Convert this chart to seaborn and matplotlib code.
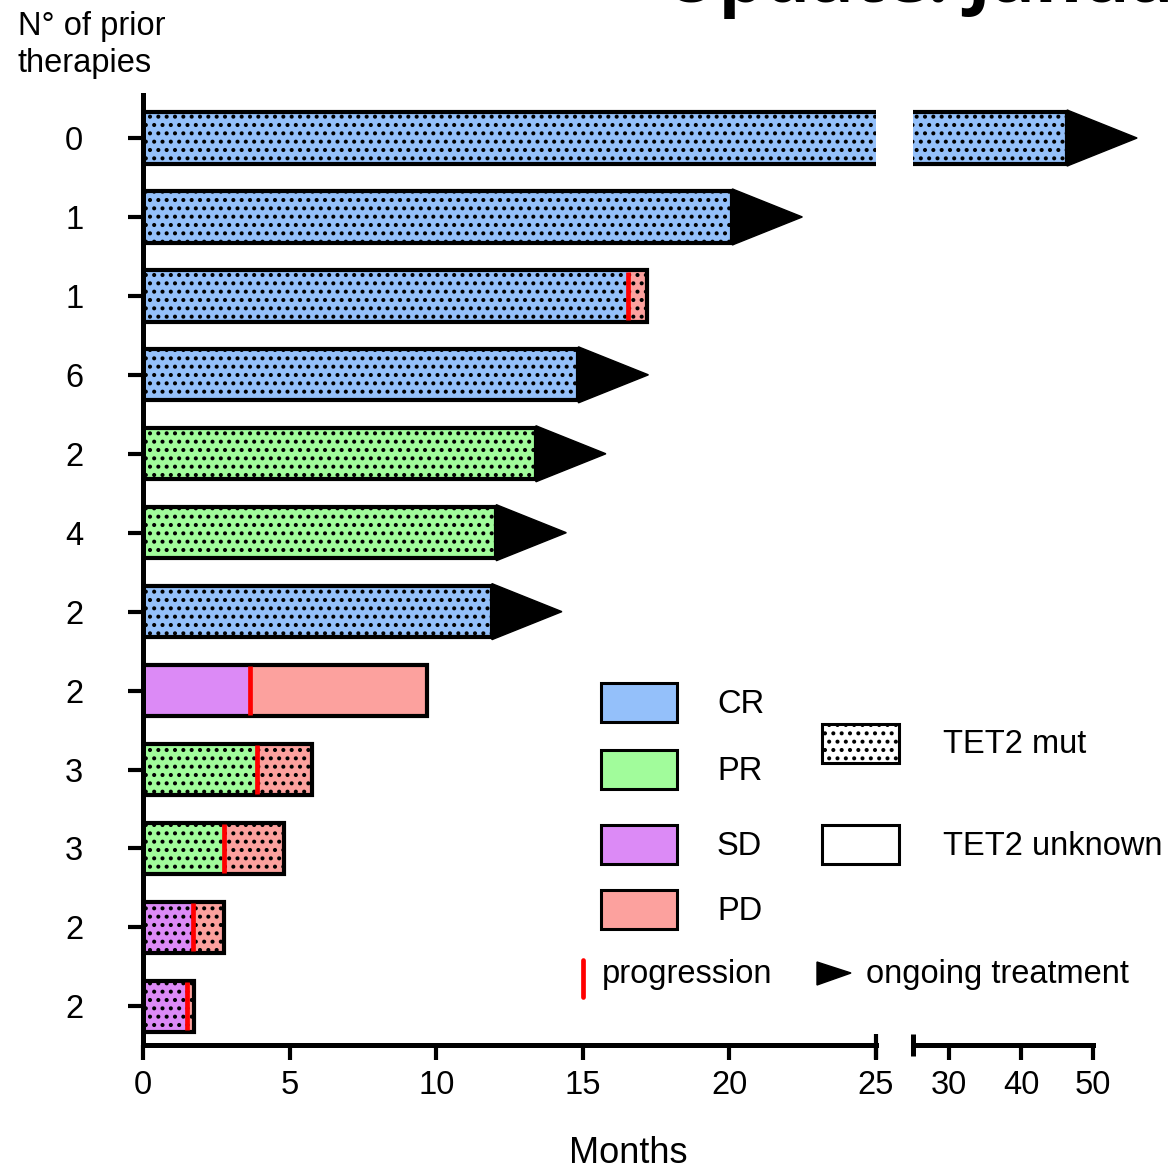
import numpy as np
import pandas as pd
import matplotlib
matplotlib.use('Agg')
import matplotlib.pyplot as plt
import seaborn as sns
from matplotlib.patches import Rectangle, Polygon

# ---------------- data ----------------
prior_therapies = [0, 1, 1, 6, 2, 4, 2, 2, 3, 3, 2, 2]
response = ['CR', 'CR', 'CR', 'CR', 'PR', 'PR', 'CR', 'SD', 'PR', 'PR', 'SD', 'SD']
response_end = [46.4, 20.1, 16.55, 14.85, 13.4, 12.05, 11.9, 3.65, 3.9, 2.75, 1.7, 1.5]
total_months = [46.4, 20.1, 17.2, 14.85, 13.4, 12.05, 11.9, 9.7, 5.75, 4.8, 2.75, 1.75]
progression = [False, False, True, False, False, False, False, True, True, True, True, True]
ongoing = [True, True, False, True, True, True, True, False, False, False, False, False]
tet2 = ['mut', 'mut', 'mut', 'mut', 'mut', 'mut', 'mut', 'unknown', 'mut', 'mut', 'mut', 'mut']
left_ticks = [0, 5, 10, 15, 20, 25]
right_ticks = [30, 40, 50]
response_levels = ['CR', 'PR', 'SD', 'PD']
colors = {'CR': '#94c0fa', 'PR': '#a1fc9b', 'SD': '#dc8af6', 'PD': '#fca19e'}

# ---------------- style ----------------
sns.set_theme(style='white')
plt.rcParams['font.family'] = ['Liberation Sans', 'DejaVu Sans']
plt.rcParams['hatch.linewidth'] = 1.7
plt.rcParams['text.color'] = 'black'
plt.rcParams['xtick.color'] = 'black'
plt.rcParams['ytick.color'] = 'black'
plt.rcParams['axes.labelcolor'] = 'black'

W, H = 1175, 1170
FS = 23.5
BAR_W = 0.65
EDGE = 3.0
SPINE = 3.6

fig = plt.figure(figsize=(W / 100, H / 100), dpi=100)
ax1 = fig.add_axes([143 / W, 1 - 1045 / H, 733 / W, 950 / H])
ax2 = fig.add_axes([913 / W, 1 - 1045 / H, 180 / W, 950 / H], sharey=ax1)

n = len(prior_therapies)
df = pd.DataFrame({
    'patient': [f'P{i + 1}' for i in range(n)],
    'total': total_months,
    'resp_end': response_end,
    'response': response,
})

for ax in (ax1, ax2):
    # progression (PD) background = full duration
    sns.barplot(data=df, x='total', y='patient', color=colors['PD'], orient='h',
                width=BAR_W, saturation=1, edgecolor='black', linewidth=0,
                errorbar=None, ax=ax)
    # response segment
    sns.barplot(data=df, x='resp_end', y='patient', hue='response',
                hue_order=['CR', 'PR', 'SD'], palette=colors, dodge=False,
                orient='h', width=BAR_W, saturation=1, edgecolor='black',
                linewidth=0, errorbar=None, legend=False, ax=ax)
    for p in ax.patches:
        row = int(round(p.get_y() + p.get_height() / 2))
        if 0 <= row < n and tet2[row] == 'mut':
            p.set_hatch('..')
    # outlines
    sns.barplot(data=df, x='total', y='patient', color='black', fill=False,
                orient='h', width=BAR_W, linewidth=EDGE, errorbar=None, ax=ax)
    ax.set_xlabel('')
    ax.set_ylabel('')

# progression marks
for i in range(n):
    if progression[i]:
        ax1.vlines(response_end[i], i - BAR_W / 2 + 0.02, i + BAR_W / 2 - 0.02,
                   color='#ff0000', lw=3.4, zorder=6)

# ongoing-treatment arrows
ARROW_PX = 70
for i in range(n):
    if ongoing[i]:
        t = total_months[i]
        if t < 25:
            ax, ppm = ax1, 733 / 25
        else:
            ax, ppm = ax2, 180 / 25
        L = ARROW_PX / ppm
        hh = BAR_W / 2 + 0.03
        ax.add_patch(Polygon([[t, i - hh], [t + L, i], [t, i + hh]], closed=True,
                             facecolor='black', edgecolor='black', lw=1,
                             clip_on=False, zorder=7))

# axes limits / ticks
ax1.set_ylim(11.49, -0.545)
ax1.set_xlim(0, 25)
ax2.set_xlim(25, 50)

ax1.set_xticks(left_ticks)
ax1.set_xticklabels([str(v) for v in left_ticks])
ax2.set_xticks(right_ticks)
ax2.set_xticklabels([str(v) for v in right_ticks])
ax1.set_yticks(range(n))
ax1.set_yticklabels([str(v) for v in prior_therapies])

for ax in (ax1, ax2):
    ax.tick_params(axis='x', direction='out', length=11, width=3, color='black',
                   labelcolor='black', labelsize=FS, pad=7, bottom=True)
    for s in ('top', 'right'):
        ax.spines[s].set_visible(False)
    ax.spines['bottom'].set_linewidth(SPINE)
    ax.spines['bottom'].set_color('black')
    ax.grid(False)
    ax.set_facecolor('none')

ax1.tick_params(axis='y', direction='out', length=11, width=3, color='black',
                labelcolor='black', labelsize=FS, pad=32, left=True)
ax1.spines['left'].set_linewidth(SPINE)
ax1.spines['left'].set_color('black')
ax2.spines['left'].set_visible(False)
ax2.tick_params(axis='y', left=False, labelleft=False)

# axis-break marks
ax1.plot([25, 25], [-0.015, 0.012], transform=ax1.get_xaxis_transform(),
         color='black', lw=3, clip_on=False, solid_capstyle='butt', zorder=8)
ax2.plot([25, 25], [-0.012, 0.012], transform=ax2.get_xaxis_transform(),
         color='black', lw=3.6, clip_on=False, solid_capstyle='butt', zorder=8)

# ---------------- texts ----------------
def fx(x):
    return x / W


def fy(y):
    return 1 - y / H


fig.text(fx(664), fy(2), 'Update: January 2021', fontsize=52, fontweight='bold',
         family=['Open Sans', 'DejaVu Sans'], va='baseline', ha='left', color='black')
fig.text(fx(18), fy(35), 'N° of prior', fontsize=FS, va='baseline', ha='left')
fig.text(fx(18), fy(72), 'therapies', fontsize=FS, va='baseline', ha='left')
fig.text(fx(628), fy(1163), 'Months', fontsize=26, va='baseline', ha='center')

# ---------------- legend (drawn) ----------------
def fig_rect(x0, y0, x1, y1, **kw):
    fig.add_artist(Rectangle((fx(x0), fy(y1)), (x1 - x0) / W, (y1 - y0) / H,
                             transform=fig.transFigure, **kw))


box_tops = {'CR': 683, 'PR': 750, 'SD': 825, 'PD': 890}
label_base = {'CR': 713, 'PR': 780, 'SD': 855, 'PD': 920}
for lvl in response_levels:
    fig_rect(601, box_tops[lvl], 677, box_tops[lvl] + 39,
             facecolor=colors[lvl], edgecolor='black', lw=2.2)
    fig.text(fx(717), fy(label_base[lvl]), lvl, fontsize=FS, va='baseline', ha='left')

fig_rect(822, 724, 899, 763, facecolor='white', edgecolor='black', lw=2.2, hatch='..')
fig.text(fx(943), fy(753), 'TET2 mut', fontsize=FS, va='baseline', ha='left')
fig_rect(822, 825, 899, 864, facecolor='white', edgecolor='black', lw=2.2)
fig.text(fx(943), fy(855), 'TET2 unknown', fontsize=FS, va='baseline', ha='left')

fig.add_artist(plt.Line2D([fx(583), fx(583)], [fy(960), fy(997)], color='#ff0000',
                          lw=3.4, transform=fig.transFigure))
fig.text(fx(602), fy(983), 'progression', fontsize=FS, va='baseline', ha='left')
fig.add_artist(Polygon([[fx(817), fy(962)], [fx(851), fy(973)], [fx(817), fy(985)]],
                       closed=True, facecolor='black', edgecolor='black', lw=1,
                       transform=fig.transFigure))
fig.text(fx(866), fy(983), 'ongoing treatment', fontsize=FS, va='baseline', ha='left')

fig.savefig('out.png', dpi=100, facecolor='white')
